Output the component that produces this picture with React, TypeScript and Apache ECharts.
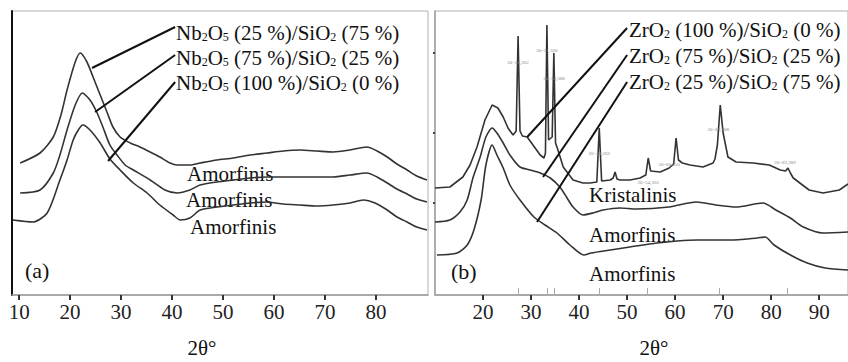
import React, { useEffect, useRef } from "react";
import * as echarts from "echarts";

// ---------- DATA ----------
// Panel (a): Nb2O5/SiO2 diffractograms, [2θ, offset intensity (a.u.)]
const nb25: [number, number][] = [
  [10.2, 132], [14.1, 142], [16.7, 158], [18.2, 180], [19.4, 205], [21.0, 233], [22.0, 242], [23.3, 233],
  [24.5, 218], [25.9, 200], [27.3, 182], [28.4, 168], [29.8, 158], [31.8, 152], [33.7, 148], [35.7, 143],
  [37.6, 138], [39.6, 132], [41.0, 130], [43.5, 130], [45.5, 132], [48.8, 135], [52.0, 137], [55.3, 140],
  [58.6, 142], [61.8, 144], [65.1, 145], [68.4, 144], [71.6, 143], [74.9, 145], [78.2, 148], [80.2, 144],
  [82.2, 138], [84.1, 131], [86.1, 125], [88.0, 119], [90.0, 115],
];
const nb75: [number, number][] = [
  [10.2, 102], [14.1, 105], [16.7, 122], [18.0, 140], [19.4, 165], [21.0, 190], [22.4, 202], [23.9, 195],
  [25.3, 182], [26.5, 167], [27.8, 150], [29.2, 140], [30.8, 130], [32.4, 125], [35.7, 115], [38.6, 105],
  [41.0, 102], [43.5, 105], [45.5, 110], [48.8, 113], [52.0, 115], [55.3, 117], [58.6, 118], [65.1, 118],
  [71.6, 118], [74.9, 120], [78.2, 122], [80.2, 118], [82.2, 112], [84.1, 106], [86.1, 101], [88.0, 96],
  [90.0, 93],
];
const nb100: [number, number][] = [
  [8.8, 75], [12.7, 73], [15.5, 82], [18.0, 115], [19.4, 135], [20.6, 155], [21.6, 165], [22.5, 170],
  [23.9, 165], [25.9, 152], [27.8, 136], [29.8, 125], [32.4, 112], [35.1, 102], [37.6, 90], [40.2, 80],
  [41.6, 75], [43.5, 77], [45.5, 85], [48.8, 88], [52.0, 90], [55.3, 92], [58.6, 93], [61.8, 91],
  [65.1, 90], [68.4, 89], [71.6, 90], [74.9, 92], [77.5, 95], [79.8, 92], [82.2, 85], [84.1, 78],
  [86.1, 73], [88.0, 68], [90.0, 65],
];

// Panel (b): ZrO2/SiO2 diffractograms
const zr100: [number, number][] = [
  [10.0, 107], [13.1, 108], [15.8, 118], [17.3, 130], [18.75, 148], [20.4, 175], [21.9, 190], [23.1, 187],
  [24.2, 178], [25.2, 167], [26.25, 160], [26.9, 164], [27.3, 259], [27.7, 164], [28.2, 159], [29.2, 158],
  [30.4, 150], [31.9, 140], [32.7, 137], [33.0, 142], [33.3, 270], [33.65, 155], [34.4, 158], [34.75, 242],
  [35.1, 152], [35.6, 145], [36.7, 128], [38.75, 115], [40.8, 112], [42.3, 112], [43.7, 113], [44.2, 167],
  [44.7, 114], [46.5, 115], [47.1, 117], [47.5, 123], [47.9, 116], [48.5, 115], [50.6, 115], [52.7, 117],
  [53.9, 120], [54.4, 137], [54.9, 124], [56.9, 123], [58.75, 127], [59.7, 131], [60.2, 157], [60.7, 135],
  [61.5, 132], [63.1, 130], [65.8, 128], [67.9, 132], [68.3, 136], [68.8, 150], [69.4, 190], [70.0, 162],
  [71.0, 138], [72.7, 133], [76.25, 132], [79.6, 130], [81.9, 125], [83.0, 124], [83.5, 127], [84.0, 122],
  [84.6, 117], [87.9, 105], [90.8, 102], [94.2, 105], [96.0, 111],
];
const zr75: [number, number][] = [
  [10.0, 73], [13.1, 75], [15.2, 83], [16.7, 95], [17.9, 117], [19.4, 138], [20.6, 158], [21.9, 167],
  [22.9, 162], [24.2, 152], [25.6, 140], [27.7, 128], [29.8, 125], [31.9, 122], [34.0, 117], [36.0, 108],
  [37.5, 97], [38.75, 88], [40.8, 80], [42.9, 82], [45.0, 85], [48.5, 87], [51.9, 86], [58.75, 88],
  [64.4, 93], [68.5, 90], [72.7, 88], [78.3, 92], [81.0, 85], [84.0, 77], [86.7, 68], [90.8, 62], [96.0, 63],
];
const zr25: [number, number][] = [
  [10.4, 40], [14.6, 42], [16.7, 50], [18.1, 65], [19.6, 95], [20.6, 130], [21.9, 150], [22.9, 140],
  [24.2, 127], [25.6, 110], [27.7, 95], [30.6, 78], [32.9, 70], [35.4, 62], [38.1, 50], [41.0, 40],
  [42.5, 42], [46.5, 45], [50.6, 48], [56.25, 52], [60.4, 54], [64.6, 55], [71.5, 55], [77.1, 57],
  [78.75, 58], [80.6, 50], [84.0, 40], [87.5, 32], [91.25, 27], [96.0, 25],
];

// tick labels
const ticksA = [10, 20, 30, 40, 50, 60, 70, 80];
const ticksB = [20, 30, 40, 50, 60, 70, 80, 90];
const refMarksB = [27.3, 33.3, 34.8, 44.3, 54.2, 69.2, 83.3];
const yMarksB = [242, 162, 92];

// labels
const nbNames = ["Nb₂O₅ (25 %)/SiO₂ (75 %)", "Nb₂O₅ (75 %)/SiO₂ (25 %)", "Nb₂O₅ (100 %)/SiO₂ (0 %)"];
const zrNames = ["ZrO₂ (100 %)/SiO₂ (0 %)", "ZrO₂ (75 %)/SiO₂ (25 %)", "ZrO₂ (25 %)/SiO₂ (75 %)"];
const phaseA = ["Amorfinis", "Amorfinis", "Amorfinis"];
const phaseB = ["Kristalinis", "Amorfinis", "Amorfinis"];
const axisTitle = "2θ°";

// leader lines (data coordinates): [from label, to curve]
const nbLeaders: [number, number][][] = [
  [[40.6, 268], [24.3, 227]],
  [[40.6, 240], [24.9, 183]],
  [[40.6, 213], [27.45, 134]],
];
const zrLeaders: [number, number][][] = [
  [[50.0, 267], [29.2, 158]],
  [[50.0, 240], [32.5, 118]],
  [[50.0, 213], [31.25, 73]],
];

// tiny peak annotations on ZrO2 (100 %)
const peakNames = ["2θ=28,262", "2θ=31,500", "2θ=34,388", "2θ=44,262", "2θ=54,305", "2θ=60,050", "2θ=69,888", "2θ=83,389"];
const peakX = [27.3, 33.3, 34.8, 44.2, 54.4, 58.75, 69.0, 82.9];
const peakY = [233, 245, 217, 142, 113, 131, 166, 133];

// ---------- HELPERS ----------
const serif = "'Liberation Serif', 'Times New Roman', serif";
const SUBS = "₀₁₂₃₄₅₆₇₈₉";

function richLabel(s: string): string {
  let out = "";
  let buf = "";
  for (const ch of s) {
    const i = SUBS.indexOf(ch);
    if (i >= 0) {
      if (buf) { out += `{n|${buf}}`; buf = ""; }
      out += `{s|${i}}`;
    } else buf += ch;
  }
  if (buf) out += `{n|${buf}}`;
  return out;
}

const richStyles = {
  n: { fontSize: 21, fontFamily: serif, fill: "#111", lineHeight: 24, verticalAlign: "bottom" },
  s: { fontSize: 12, fontFamily: serif, fill: "#111", lineHeight: 12, verticalAlign: "bottom" },
};

function chemText(s: string, x: number, y: number) {
  return {
    type: "text",
    x,
    y,
    silent: true,
    style: {
      text: richLabel(s),
      rich: richStyles,
      align: "left",
      verticalAlign: "middle",
      textAlign: "left",
      textVerticalAlign: "middle",
    },
  };
}

function plainText(s: string, x: number, y: number, align = "left", size = 21) {
  return {
    type: "text",
    x,
    y,
    silent: true,
    style: {
      text: s,
      font: `${size}px ${serif}`,
      fill: "#111",
      align,
      verticalAlign: "middle",
      textAlign: align,
      textVerticalAlign: "middle",
    },
  };
}

function leader(seg: [number, number][]) {
  return {
    silent: true,
    symbol: ["none", "none"],
    label: { show: false },
    lineStyle: { color: "#111", width: 2, type: "solid", opacity: 1 },
    emphasis: { disabled: true },
    data: [[{ coord: seg[0] }, { coord: seg[1] }]],
  };
}

function curve(data: [number, number][], xi: number, seg: [number, number][], smooth: number | boolean) {
  return {
    type: "line",
    xAxisIndex: xi,
    yAxisIndex: xi === 0 ? 0 : 1,
    data,
    showSymbol: false,
    smooth,
    silent: true,
    lineStyle: { color: "#333", width: 1.6 },
    markLine: leader(seg),
  };
}

function xAxisCommon(grid: number, min: number, max: number, ticks: number[]) {
  return {
    type: "value",
    gridIndex: grid,
    min,
    max,
    splitLine: { show: false },
    axisLine: { show: true, onZero: false, lineStyle: { color: "#9a9a9a", width: 1.5 } },
    axisTick: { show: true, length: 5, customValues: ticks, lineStyle: { color: "#333", width: 2 } },
    axisLabel: { show: true, customValues: ticks, fontSize: 21, fontFamily: serif, color: "#222", margin: 6 },
  };
}

export default function App() {
  const ref = useRef<HTMLDivElement>(null);
  useEffect(() => {
    if (!ref.current) return;
    const chart = echarts.init(ref.current, null, { renderer: "svg" });
    const topSeries: any = curve(zr100, 1, zrLeaders[0], false);
    topSeries.markPoint = {
      silent: true,
      symbol: "circle",
      symbolSize: 1,
      itemStyle: { color: "rgba(0,0,0,0)" },
      label: { show: true, position: "inside", fontSize: 5, color: "#888", fontFamily: serif, formatter: (p: any) => p.name },
      data: peakNames.map((n, i) => ({ name: n, coord: [peakX[i], peakY[i]] })),
    };
    chart.setOption({
      animation: false,
      backgroundColor: "#fff",
      grid: [
        { left: 12, top: 11, width: 416, height: 284, show: true, borderColor: "#b0b0b0", borderWidth: 1, containLabel: false },
        { left: 435, top: 11, width: 414, height: 284, show: true, borderColor: "#b0b0b0", borderWidth: 1, containLabel: false },
      ],
      xAxis: [
        xAxisCommon(0, 8.6, 90.2, ticksA),
        xAxisCommon(1, 10, 96, ticksB),
        {
          type: "value",
          gridIndex: 1,
          min: 10,
          max: 96,
          position: "bottom",
          splitLine: { show: false },
          axisLine: { show: false },
          axisTick: { show: true, inside: true, length: 7, customValues: refMarksB, lineStyle: { color: "#aaa", width: 1 } },
          axisLabel: { show: false },
        },
      ],
      yAxis: [
        {
          type: "value",
          gridIndex: 0,
          min: 0,
          max: 284,
          splitLine: { show: false },
          axisLine: { show: true, onZero: false, lineStyle: { color: "#111", width: 2 } },
          axisTick: { show: false },
          axisLabel: { show: false },
        },
        {
          type: "value",
          gridIndex: 1,
          min: 0,
          max: 284,
          splitLine: { show: false },
          axisLine: { show: true, onZero: false, lineStyle: { color: "#a0a0a0", width: 1.5 } },
          axisTick: { show: true, length: 2, customValues: yMarksB, lineStyle: { color: "#444", width: 2 } },
          axisLabel: { show: false },
        },
      ],
      series: [
        curve(nb25, 0, nbLeaders[0], 0.25),
        curve(nb75, 0, nbLeaders[1], 0.25),
        curve(nb100, 0, nbLeaders[2], 0.25),
        topSeries,
        curve(zr75, 1, zrLeaders[1], 0.25),
        curve(zr25, 1, zrLeaders[2], 0.25),
      ],
      graphic: [
        chemText(nbNames[0], 176, 31),
        chemText(nbNames[1], 176, 56),
        chemText(nbNames[2], 176, 81),
        chemText(zrNames[0], 629, 28),
        chemText(zrNames[1], 629, 54),
        chemText(zrNames[2], 629, 80),
        plainText(phaseA[0], 187, 174),
        plainText(phaseA[1], 186, 200),
        plainText(phaseA[2], 190, 227),
        plainText(phaseB[0], 589, 195),
        plainText(phaseB[1], 589, 235),
        plainText(phaseB[2], 589, 274),
        plainText("(a)", 25, 270, "left", 22),
        plainText("(b)", 451, 271, "left", 22),
        plainText(axisTitle, 202, 348, "center", 21),
        plainText(axisTitle, 654, 348, "center", 21),
      ],
    });
    return () => chart.dispose();
  }, []);
  return (
    <div
      ref={ref}
      style={{ position: "fixed", left: 0, top: 0, width: 848, height: 362, background: "#fff" }}
    />
  );
}
